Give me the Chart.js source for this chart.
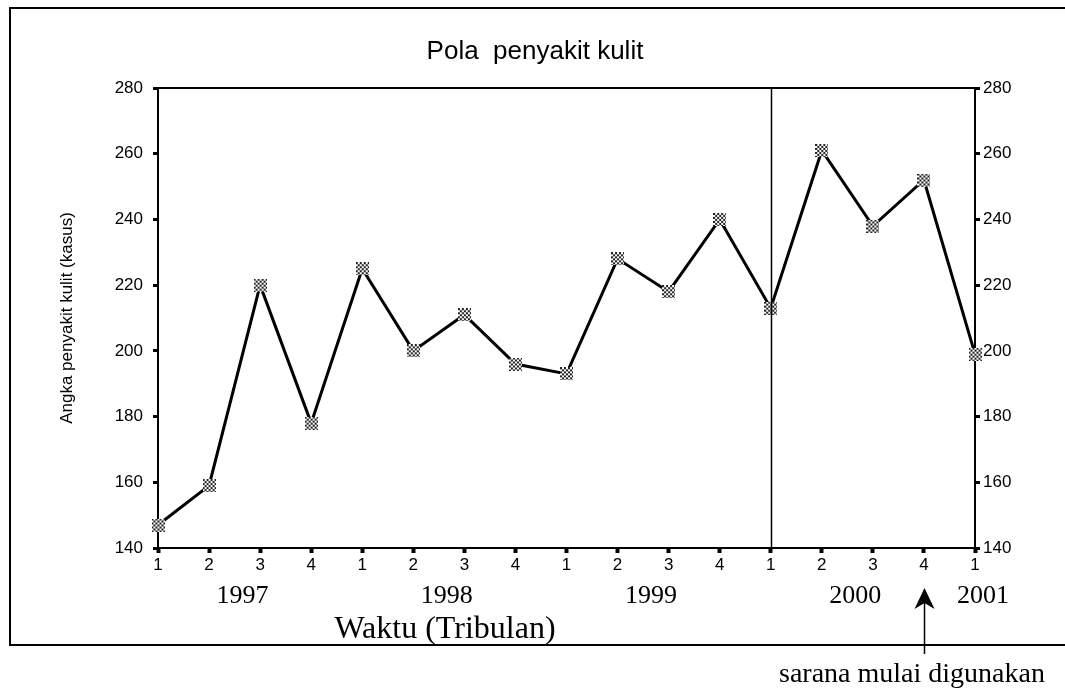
<!DOCTYPE html>
<html>
<head>
<meta charset="utf-8">
<script src="https://cdn.jsdelivr.net/npm/chart.js@4.4.1/dist/chart.umd.min.js"></script>
<style>
  html, body { margin: 0; padding: 0; background: #fff; }
  #wrap { width: 1065px; height: 691px; }
</style>
</head>
<body>
<div id="wrap"><canvas id="myChart" width="1065" height="691"></canvas></div>
<script>
// Pola penyakit kulit - per tribulan 1997..2001
const quarters = ["1", "2", "3", "4", "1", "2", "3", "4", "1", "2", "3", "4", "1", "2", "3", "4", "1"];
const cases = [147, 159, 220, 178, 225, 200, 211, 196, 193, 228, 218, 240, 213, 261, 238, 252, 199];
const years = ["1997", "1998", "1999", "2000", "2001"];
const yearFirstQuarter = [0, 4, 8, 12, 16];
const yMin = 140;
const yMax = 280;
const yStep = 20;
const dividerIndex = 12; // garis vertikal di tribulan 1 tahun 2000
const arrowIndex = 15;   // panah "sarana mulai digunakan"

const sans = "'Liberation Sans', Arial, sans-serif";
const serif = "'Liberation Serif', 'Times New Roman', serif";

// marker kotak kotak-kotak (checker)
const marker = document.createElement("canvas");
marker.width = 13;
marker.height = 13;
const mctx = marker.getContext("2d");
mctx.fillStyle = "#fff";
mctx.fillRect(0, 0, 13, 13);
mctx.fillStyle = "#222";
for (let i = 0; i < 7; i++) {
  for (let j = 0; j < 7; j++) {
    if ((i + j) % 2 === 0) mctx.fillRect(i * 2, j * 2, 2, 2);
  }
}

const extras = {
  id: "extras",
  afterDraw(chart) {
    const c = chart.ctx;
    const area = chart.chartArea;
    const x = chart.scales.x;
    c.save();
    c.strokeStyle = "#000";
    c.fillStyle = "#000";

    // judul
    c.font = "26px " + sans;
    c.textAlign = "center";
    c.textBaseline = "middle";
    c.fillText("Pola  penyakit kulit", 535, 52);

    // garis atas area plot
    c.lineWidth = 2;
    c.beginPath();
    c.moveTo(area.left, area.top);
    c.lineTo(area.right, area.top);
    c.stroke();

    // garis pemisah tahun 2000
    const dx = Math.round(x.getPixelForValue(dividerIndex)) + 0.5;
    c.lineWidth = 1.5;
    c.beginPath();
    c.moveTo(dx, area.top);
    c.lineTo(dx, area.bottom);
    c.stroke();

    // label tahun
    c.font = "26px " + serif;
    years.forEach((yr, i) => {
      const first = yearFirstQuarter[i];
      const last = Math.min(first + 3, quarters.length - 1);
      const cx = (x.getPixelForValue(first) + x.getPixelForValue(last)) / 2 + 8;
      c.fillText(yr, cx, 596);
    });

    // judul sumbu x
    c.font = "32px " + serif;
    c.fillText("Waktu (Tribulan)", 445, 630);

    // bingkai luar
    c.lineWidth = 2;
    c.beginPath();
    c.moveTo(1065, 8);
    c.lineTo(10, 8);
    c.lineTo(10, 645);
    c.lineTo(1065, 645);
    c.stroke();

    // panah
    const ax = Math.round(x.getPixelForValue(arrowIndex)) + 0.5;
    c.lineWidth = 1.5;
    c.beginPath();
    c.moveTo(ax, 654);
    c.lineTo(ax, 600);
    c.stroke();
    c.beginPath();
    c.moveTo(ax, 588);
    c.lineTo(ax + 10, 609);
    c.lineTo(ax, 603);
    c.lineTo(ax - 10, 609);
    c.closePath();
    c.fill();

    c.font = "28px " + serif;
    c.fillText("sarana mulai digunakan", 912, 675);
    c.restore();
  }
};

const yAxisBase = {
  type: "linear",
  min: yMin,
  max: yMax,
  grid: {
    drawOnChartArea: false,
    drawTicks: true,
    tickLength: 5,
    tickWidth: 3,
    tickColor: "#000",
  },
  border: { display: true, color: "#000", width: 2 },
  ticks: {
    stepSize: yStep,
    color: "#000",
    padding: 10,
    font: { family: sans, size: 17 },
  },
};

const ctx = document.getElementById("myChart").getContext("2d");
const myChart = new Chart(ctx, {
  type: "line",
  data: {
    labels: quarters,
    datasets: [
      {
        data: cases,
        yAxisID: "y",
        borderColor: "#000",
        borderWidth: 3,
        tension: 0,
        fill: false,
        pointStyle: marker,
        pointRadius: 6,
        clip: false,
      },
    ],
  },
  plugins: [extras],
  options: {
    responsive: false,
    animation: false,
    layout: { padding: { top: 88, left: 0, right: 0, bottom: 0 } },
    plugins: {
      legend: { display: false },
      title: { display: false },
      tooltip: { enabled: false },
    },
    scales: {
      x: {
        type: "category",
        offset: false,
        grid: {
          drawOnChartArea: false,
          drawTicks: true,
          tickLength: 5,
          tickWidth: 4,
          tickColor: "#000",
        },
        border: { display: true, color: "#000", width: 2 },
        ticks: {
          color: "#000",
          autoSkip: false,
          maxRotation: 0,
          padding: 2,
          font: { family: sans, size: 17 },
        },
        afterFit: (scale) => {
          scale.height = 143;
        },
      },
      y: {
        ...yAxisBase,
        position: "left",
        title: {
          display: true,
          text: "Angka penyakit kulit (kasus)",
          color: "#000",
          font: { family: sans, size: 17 },
          padding: { top: 57, bottom: 0 },
        },
        afterFit: (scale) => {
          scale.width = 158;
        },
      },
      y2: {
        ...yAxisBase,
        position: "right",
        ticks: { ...yAxisBase.ticks, padding: 3 },
        afterFit: (scale) => {
          scale.width = 90;
        },
      },
    },
  },
});
</script>
</body>
</html>
